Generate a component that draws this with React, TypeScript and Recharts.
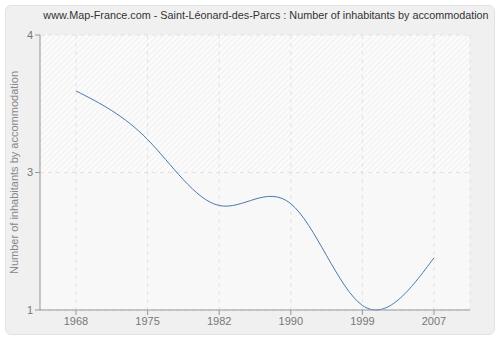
import React from 'react';
import { LineChart, Line, XAxis, YAxis, CartesianGrid } from 'recharts';

const years = ['1968', '1975', '1982', '1990', '1999', '2007'];
const inhabitantsPerHome = [3.39, 2.86, 2.14, 2.16, 1.05, 1.57];
const yTicks = [1, 2.5, 4];

const data = years.map((year, i) => ({ year, value: inhabitantsPerHome[i] }));

const font = '"Liberation Sans", Arial, sans-serif';

export default function App() {
  return (
    <div style={{ position: 'absolute', left: 0, top: 0, width: 500, height: 340, background: '#fff', overflow: 'hidden' }}>
      <div
        style={{
          position: 'absolute', left: 5, top: 5, width: 488, height: 328,
          background: '#f0f0f0', border: '1px solid #e2e2e2', borderRadius: 6,
        }}
      />
      <div
        style={{
          position: 'absolute', left: 0, top: 9, width: 532, textAlign: 'center',
          fontFamily: font, fontSize: 10.8, color: '#333', whiteSpace: 'nowrap',
        }}
      >
        www.Map-France.com - Saint-Léonard-des-Parcs : Number of inhabitants by accommodation
      </div>
      <div style={{ position: 'absolute', left: 0, top: 0 }}>
        <LineChart width={500} height={340} data={data} margin={{ top: 35, right: 30, bottom: 0, left: 0 }}>
          <defs>
            <pattern id="hatch" width="4" height="4" patternUnits="userSpaceOnUse" patternTransform="rotate(45)">
              <rect width="4" height="4" fill="#fbfbfb" />
              <line x1="0" y1="0" x2="0" y2="4" stroke="#e6e6e6" strokeWidth="1" />
            </pattern>
          </defs>
          <CartesianGrid
            stroke="#e2e2e2"
            strokeDasharray="4 4"
            horizontalFill={['url(#hatch)', '#f8f8f8']}
            fillOpacity={1}
          />
          <XAxis
            dataKey="year"
            padding={{ left: 36, right: 36 }}
            height={30}
            tickSize={5}
            stroke="#999"
            tick={{ fill: '#777', fontSize: 11, fontFamily: font }}
            tickLine={{ stroke: '#999' }}
          />
          <YAxis
            domain={[1, 4]}
            ticks={yTicks}
            tickFormatter={(v: number) => String(Math.round(v))}
            width={40}
            tickSize={5}
            stroke="#999"
            tick={{ fill: '#777', fontSize: 11, fontFamily: font }}
            label={{
              value: 'Number of inhabitants by accommodation',
              angle: -90,
              position: 'center',
              dx: -6,
              style: { fill: '#888', fontSize: 11, fontFamily: font },
            }}
          />
          <Line
            type="natural"
            dataKey="value"
            stroke="#4a78ad"
            strokeWidth={1}
            dot={false}
            activeDot={false}
            isAnimationActive={false}
          />
        </LineChart>
      </div>
    </div>
  );
}
